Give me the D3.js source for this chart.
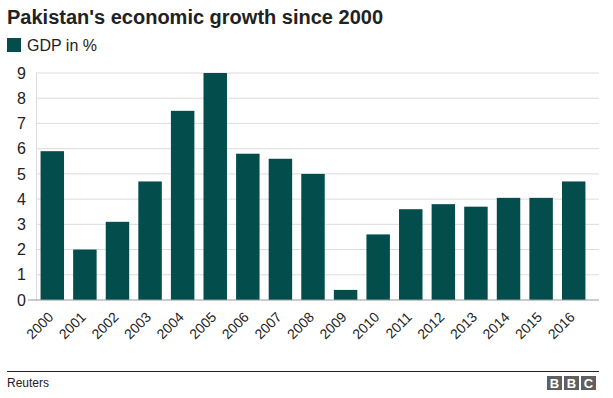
<!DOCTYPE html>
<html>
<head>
<meta charset="utf-8">
<script src="https://cdn.jsdelivr.net/npm/d3@7"></script>
<style>
  body { margin: 0; background: #fff; }
  svg { font-family: "Liberation Sans", Arial, Helvetica, sans-serif; }
</style>
</head>
<body>
<svg id="chart" width="613" height="398"></svg>
<script>
const years = ["2000","2001","2002","2003","2004","2005","2006","2007","2008",
               "2009","2010","2011","2012","2013","2014","2015","2016"];
const gdp = [5.9, 2.0, 3.1, 4.7, 7.5, 9.0, 5.8, 5.6, 5.0,
             0.4, 2.6, 3.6, 3.8, 3.7, 4.05, 4.05, 4.7];
const yTicks = [0, 1, 2, 3, 4, 5, 6, 7, 8, 9];

const data = years.map((y, i) => ({ year: y, value: gdp[i] }));

const svg = d3.select("#chart");
const barColor = "#034d4c";

const plotLeft = 36, plotRight = 599, plotTop = 73, plotBottom = 300;

const x = d3.scaleBand()
  .domain(years)
  .range([plotLeft, 590])
  .paddingInner(0.28)
  .paddingOuter(0.14);

const y = d3.scaleLinear()
  .domain([0, 9])
  .range([plotBottom, plotTop]);

// Title
svg.append("text")
  .attr("x", 7).attr("y", 24)
  .attr("font-size", 20).attr("font-weight", "bold")
  .attr("fill", "#222")
  .text("Pakistan's economic growth since 2000");

// Legend
svg.append("rect")
  .attr("x", 7).attr("y", 38).attr("width", 14).attr("height", 14)
  .attr("fill", barColor);
svg.append("text")
  .attr("x", 27).attr("y", 51)
  .attr("font-size", 16).attr("fill", "#222")
  .text("GDP in %");

// Grid lines
svg.append("g")
  .selectAll("line")
  .data(yTicks.filter(d => d > 0))
  .join("line")
  .attr("x1", plotLeft).attr("x2", plotRight)
  .attr("y1", d => y(d)).attr("y2", d => y(d))
  .attr("stroke", "#dcdcdc").attr("stroke-width", 1);

// Y axis
const yAxis = svg.append("g")
  .attr("transform", `translate(${plotLeft},0)`)
  .call(d3.axisLeft(y).tickValues(yTicks).tickSize(0).tickPadding(10));
yAxis.select(".domain").attr("stroke", "#dcdcdc");
yAxis.selectAll("text")
  .attr("font-size", 16).attr("fill", "#222")
  .attr("font-family", "Liberation Sans, Arial, sans-serif");

// Bars
svg.append("g")
  .selectAll("rect")
  .data(data)
  .join("rect")
  .attr("x", d => x(d.year))
  .attr("y", d => y(d.value))
  .attr("width", x.bandwidth())
  .attr("height", d => y(0) - y(d.value))
  .attr("fill", barColor);

// X axis
const xAxis = svg.append("g")
  .attr("transform", `translate(0,${plotBottom})`)
  .call(d3.axisBottom(x).tickSize(0));
xAxis.select(".domain").remove();
xAxis.append("line")
  .attr("x1", plotLeft - 8).attr("x2", plotRight)
  .attr("stroke", "#999");
xAxis.selectAll(".tick text")
  .attr("font-size", 14).attr("fill", "#222")
  .attr("font-family", "Liberation Sans, Arial, sans-serif")
  .attr("text-anchor", "end")
  .attr("x", 0).attr("y", 0).attr("dy", 0)
  .attr("transform", "translate(2,18) rotate(-45)");

// Footer
svg.append("line")
  .attr("x1", 7).attr("x2", 599)
  .attr("y1", 371.5).attr("y2", 371.5)
  .attr("stroke", "#222").attr("stroke-width", 1);
svg.append("text")
  .attr("x", 7).attr("y", 387)
  .attr("font-size", 12).attr("fill", "#222")
  .text("Reuters");

const logo = svg.append("g").attr("transform", "translate(547,376)");
["B", "B", "C"].forEach((ch, i) => {
  logo.append("rect")
    .attr("x", i * 17).attr("y", 0)
    .attr("width", 15).attr("height", 14)
    .attr("fill", "#606060");
  logo.append("text")
    .attr("x", i * 17 + 7.5).attr("y", 12)
    .attr("text-anchor", "middle")
    .attr("font-size", 13).attr("font-weight", "bold")
    .attr("fill", "#fff")
    .text(ch);
});
</script>
</body>
</html>
